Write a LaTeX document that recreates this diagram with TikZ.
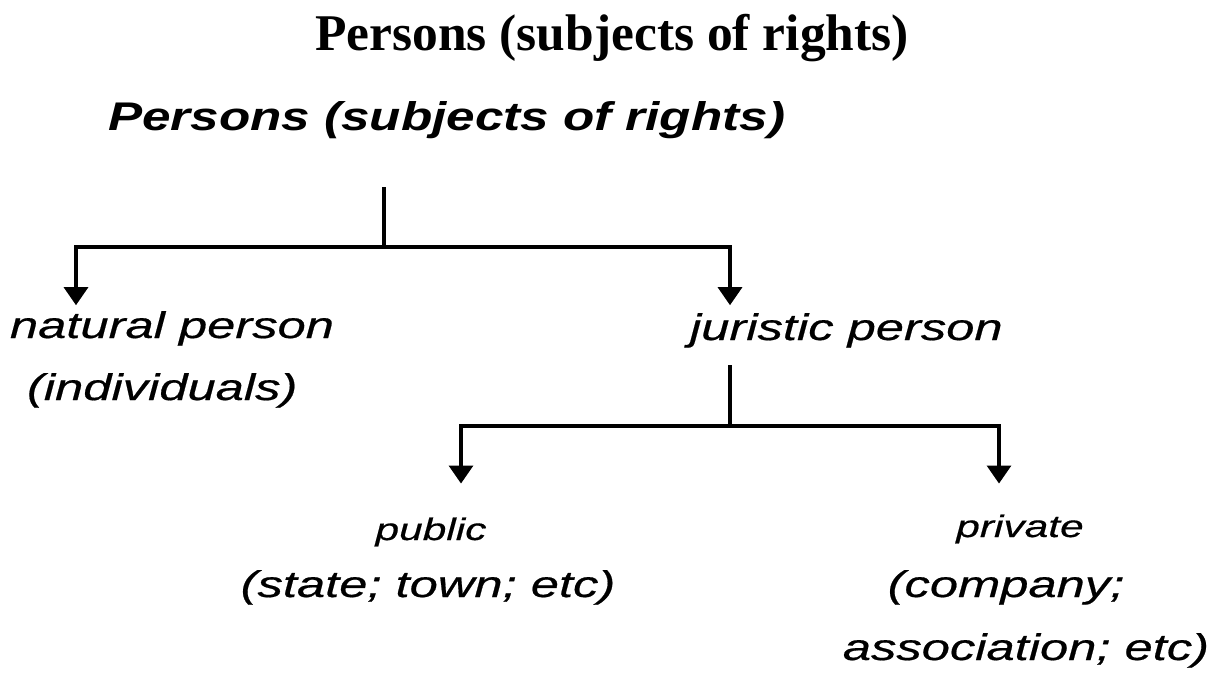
\documentclass[tikz,border=0pt]{standalone}
\usepackage{fontspec}
\setmainfont{Liberation Serif}
\newfontfamily\chartfont[FakeStretch=1.37,FakeBold=0.5]{Liberation Sans}
\newfontfamily\rootfont[FakeStretch=1.28]{Liberation Sans}
\usetikzlibrary{arrows.meta,positioning}

\begin{document}
\begin{tikzpicture}[
    x=1pt, y=-1pt,
    every node/.style={inner sep=0pt, outer sep=0pt},
    branch/.style={line width=3.2pt},
    arrowline/.style={branch, -{Triangle[width=24pt,length=18pt]}},
    kindlabel/.style={font=\chartfont\itshape\fontsize{37}{44}\selectfont},
    sublabel/.style={font=\chartfont\itshape\fontsize{31}{37}\selectfont, anchor=base}
]
    \useasboundingbox (0,0) rectangle (1216,673);

    \node (heading) [font=\bfseries\fontsize{51.5}{60}\selectfont, anchor=base] at (612,50) {Persons (subjects of rights)};
    \node (root) [font=\rootfont\bfseries\itshape\fontsize{40}{48}\selectfont, anchor=base west] at (108,130) {Persons (subjects of rights)};

    \node (natural) [kindlabel, anchor=base west] at (10,338) {natural person};
    \node (individuals) [kindlabel, anchor=base west] at (27,400) {(individuals)};
    \node (juristic) [kindlabel, anchor=base west] at (690,340) {juristic person};

    \node (public) [sublabel] at (431,540) {public};
    \node (state) [kindlabel, anchor=base] at (428,597) {(state; town; etc)};
    \node (private) [sublabel] at (1020,537) {private};
    \node (company) [kindlabel, anchor=base] at (1006,597) {(company;};
    \node (association) [kindlabel, anchor=base] at (1026,660) {association; etc)};

    \coordinate (rootstem) at (384,187);
    \coordinate (rootfork) at (384,247);
    \coordinate (juristicstem) at (730,365);
    \coordinate (juristicfork) at (730,426);

    \draw[branch] (rootstem) -- (rootfork);
    \draw[arrowline] (rootfork) -| ([xshift=66pt,yshift=6pt]natural.north west);
    \draw[arrowline] (rootfork) -| ([xshift=40pt,yshift=8pt]juristic.north west);

    \draw[branch] (juristicstem) -- (juristicfork);
    \draw[arrowline] (juristicfork) -| ([xshift=30pt,yshift=34pt]public.north);
    \draw[arrowline] (juristicfork) -| ([xshift=-21pt,yshift=31pt]private.north);
\end{tikzpicture}
\end{document}
